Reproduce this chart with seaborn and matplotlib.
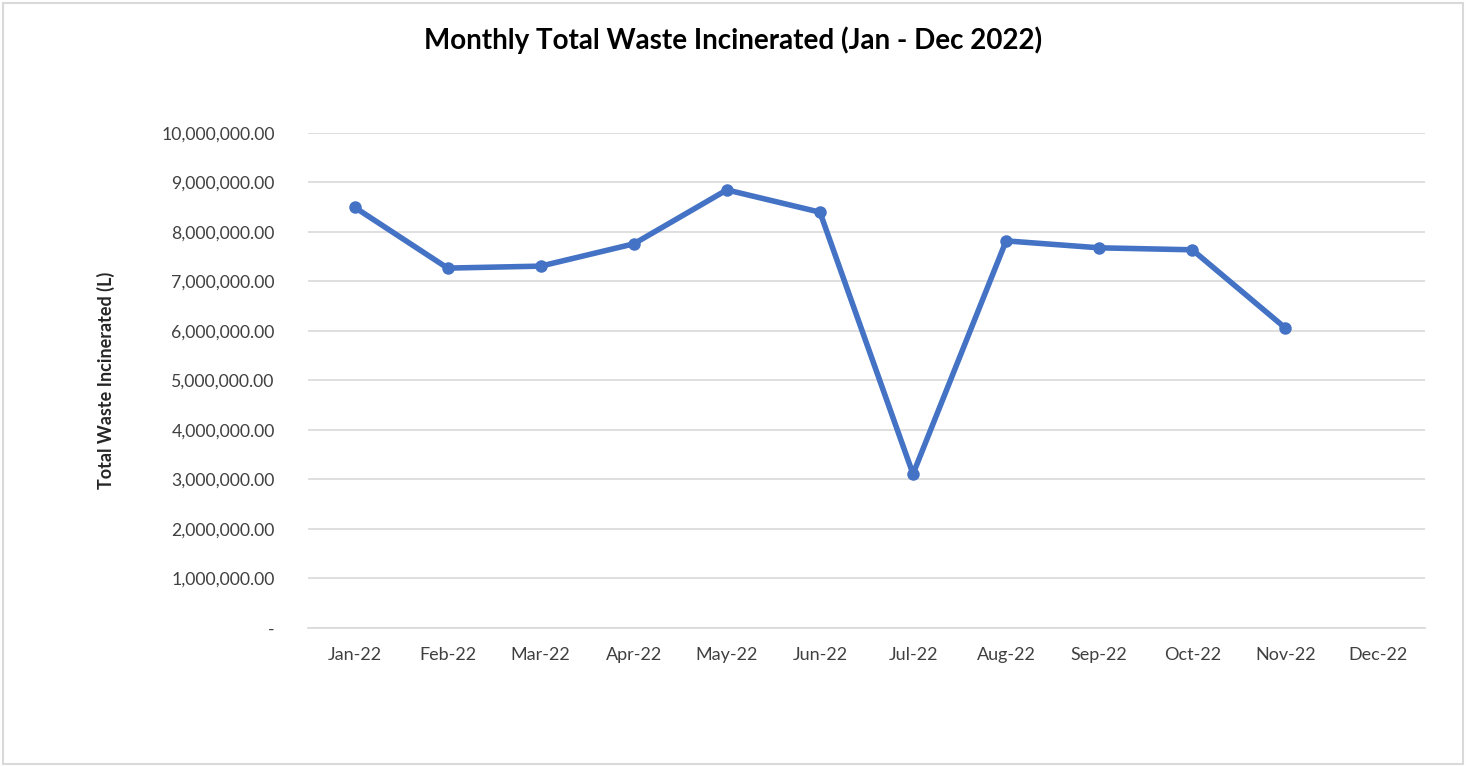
import numpy as np
import pandas as pd
import matplotlib
matplotlib.use('Agg')
import matplotlib.pyplot as plt
import seaborn as sns
from matplotlib.ticker import FuncFormatter, FixedLocator

months = ['Jan-22', 'Feb-22', 'Mar-22', 'Apr-22', 'May-22', 'Jun-22',
          'Jul-22', 'Aug-22', 'Sep-22', 'Oct-22', 'Nov-22', 'Dec-22']
waste = [8500000, 7270000, 7310000, 7760000, 8850000, 8400000,
         3110000, 7820000, 7680000, 7640000, 6060000, np.nan]
yticks = [0, 1000000, 2000000, 3000000, 4000000, 5000000,
          6000000, 7000000, 8000000, 9000000, 10000000]

df = pd.DataFrame({'Month': months, 'Waste': waste})
df['pos'] = range(len(months))

sns.set_style('white')
plt.rcParams['font.family'] = ['Lato', 'DejaVu Sans']

fig = plt.figure(figsize=(14.66, 7.66), dpi=100)
ax = fig.add_axes([0.2101, 0.1802, 0.7619, 0.6462])

sns.lineplot(data=df, x='pos', y='Waste', ax=ax, color='#4472C4',
             linewidth=4, marker='o', markersize=9, markeredgewidth=0)

ax.set_xlim(-0.5, 11.5)
ax.set_ylim(0, 10000000)
ax.set_yticks(yticks)
ax.yaxis.set_major_formatter(FuncFormatter(
    lambda v, p: '-' if v == 0 else f'{v:,.2f}'))
ax.set_xticks(df['pos'])
ax.set_xticklabels(months)
ax.xaxis.set_minor_locator(FixedLocator(np.arange(-0.5, 12, 1)))
ax.tick_params(axis='x', which='major', length=0, pad=14, labelsize=13, colors='#404040')
ax.tick_params(axis='x', which='minor', length=6, width=1.2, color='#d9d9d9', direction='out')
ax.tick_params(axis='y', length=0, pad=24, labelsize=12.7, colors='#404040')
ax.grid(axis='y', color='#d9d9d9', linewidth=1.2)
ax.set_axisbelow(True)
for s in ['top', 'right', 'left']:
    ax.spines[s].set_visible(False)
ax.spines['bottom'].set_color('#d9d9d9')
ax.spines['bottom'].set_linewidth(1.2)

ax.set_xlabel('')
ax.set_ylabel('Total Waste Incinerated (L)', fontsize=13, fontweight='bold')
ax.yaxis.set_label_coords(-0.173, 0.5)

fig.text(0.5, 0.947, 'Monthly Total Waste Incinerated (Jan - Dec 2022)',
         ha='center', va='center', fontsize=20, fontweight='bold', color='black')

fig.patches.append(plt.Rectangle((0.002, 0.002), 0.996, 0.994, transform=fig.transFigure,
                                 fill=False, edgecolor='#d9d9d9', linewidth=1.5))

fig.savefig('out.png', dpi=100)
